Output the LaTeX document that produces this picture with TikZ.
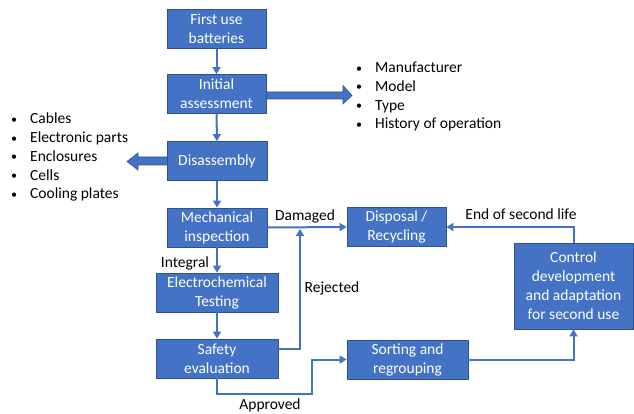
\documentclass[tikz,border=0pt]{standalone}
\usepackage{fontspec}
\setmainfont{Carlito}
\usetikzlibrary{arrows.meta,calc}
\definecolor{boxblue}{HTML}{4472C4}
\definecolor{edgeblue}{HTML}{2F528F}
\tikzset{
  flowbox/.style={draw=edgeblue, line width=0.8pt, fill=boxblue, text=white, font=\fontsize{15.5}{19}\selectfont, align=center, inner sep=0pt, minimum height=39pt},
  flowarrow/.style={draw=boxblue, line width=2pt, -{Triangle[length=7pt,width=8pt]}},
  blockarrow/.style={draw=edgeblue, line width=0.6pt, fill=boxblue},
  lbl/.style={font=\fontsize{15.5}{19}\selectfont, inner sep=0pt},
  bulletlist/.style={font=\fontsize{15.5}{18.7}\selectfont, align=left, inner sep=0pt, anchor=north west}
}
\newcommand{\bitem}[1]{\makebox[19pt][l]{\raisebox{0.6pt}{\fontsize{12}{12}\selectfont\textbullet}}#1}
\begin{document}
\begin{tikzpicture}[x=1pt,y=-1pt]
\useasboundingbox (0,0) rectangle (634,414);
% boxes
\node[flowbox, minimum width=99pt] (n1) at (216.5,29) {First use\\batteries};
\node[flowbox, minimum width=99pt] (n2) at (216.5,94) {Initial\\assessment};
\node[flowbox, minimum width=100pt] (n3) at (217,161) {Disassembly};
\node[flowbox, minimum width=100pt] (n4) at (217,227.5) {Mechanical\\inspection};
\node[flowbox, minimum width=122pt] (n5) at (217,292.5) {Electrochemical\\Testing};
\node[flowbox, minimum width=122pt] (n6) at (217,358.5) {Safety\\evaluation};
\node[flowbox, minimum width=99pt] (n7) at (396.5,227) {Disposal /\\Recycling};
\node[flowbox, minimum width=121pt] (n8) at (407.5,359.5) {Sorting and\\regrouping};
\node[flowbox, minimum width=119pt, minimum height=86pt] (n9) at (573.5,286) {Control\\development\\and adaptation\\for second use};
% block arrows
\draw[blockarrow] (n2.east |- 0,92) -- (343,92) -- (343,85.5) -- (352,95.5) -- (343,104) -- (343,99) -- (n2.east |- 0,99) -- cycle;
\draw[blockarrow] (n3.west |- 0,157) -- (138,157) -- (138,153) -- (127,161.5) -- (138,170) -- (138,165) -- (n3.west |- 0,165) -- cycle;
% bullet lists
\node[bulletlist] (listR) at (356,62) {\bitem{Manufacturer}\\\bitem{Model}\\\bitem{Type}\\\bitem{History of operation}};
\node[bulletlist] (listL) at (11,113) {\bitem{Cables}\\\bitem{Electronic parts}\\\bitem{Enclosures}\\\bitem{Cells}\\\bitem{Cooling plates}};
% connectors
\draw[flowarrow] (n1) -- (n2);
\draw[flowarrow] (n2) -- (n3);
\draw[flowarrow] (n3) -- (n4);
\draw[flowarrow] (n4) -- (n5);
\draw[flowarrow] (n5) -- (n6);
\draw[flowarrow] (n4.east) -- (n7.west);
\coordinate (rj) at (300,229);
\draw[flowarrow] ($(n6.east)+(0,-9.5)$) -| (rj);
\coordinate (ap1) at (217,394);
\coordinate (ap2) at (312,394);
\draw[flowarrow] (n6.south) -- (ap1) -- (ap2) |- (n8.west);
\draw[flowarrow] (n8.east) -| (n9.south);
\draw[flowarrow] (n9.north) |- (n7.east);
% labels
\node[lbl] (lInt) at (185,263) {Integral};
\node[lbl] (lDam) at (305,216) {Damaged};
\node[lbl] (lRej) at (332,288) {Rejected};
\node[lbl] (lApp) at (270,405) {Approved};
\node[lbl] (lEnd) at (521,214) {End of second life};
\end{tikzpicture}
\end{document}
